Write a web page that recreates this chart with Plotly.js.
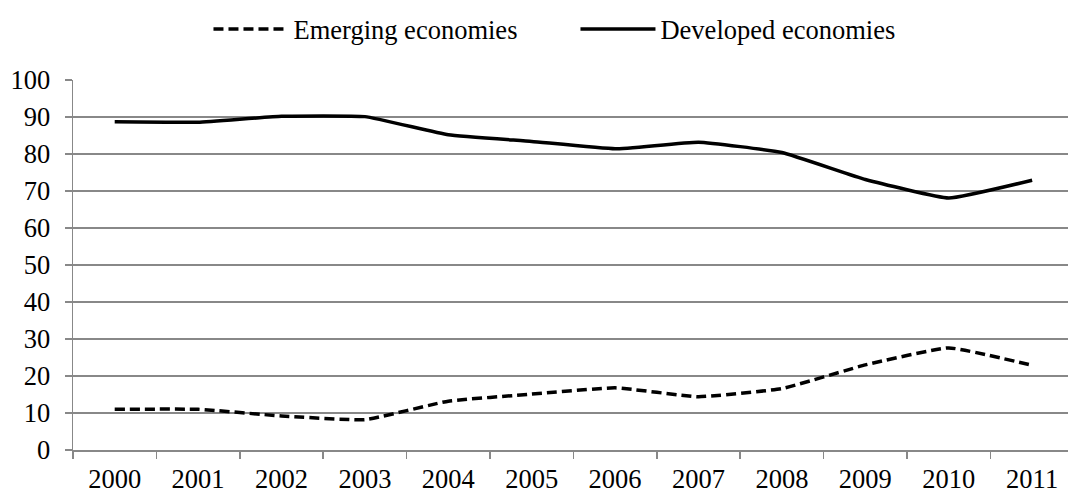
<!DOCTYPE html>
<html>
<head>
<meta charset="utf-8">
<script src="https://cdn.plot.ly/plotly-3.0.1.min.js"></script>
<style>html,body{margin:0;padding:0;background:#fff;}#chart{width:1068px;height:493px;}</style>
</head>
<body>
<div id="chart"></div>
<script>
const years = ["2000","2001","2002","2003","2004","2005","2006","2007","2008","2009","2010","2011"];
const emerging = [11.0, 11.0, 9.2, 8.2, 13.2, 15.1, 16.8, 14.4, 16.6, 23.0, 27.6, 22.9];
const developed = [88.7, 88.6, 90.2, 90.1, 85.2, 83.4, 81.4, 83.2, 80.4, 73.1, 68.1, 72.9];
const yTicks = [0,10,20,30,40,50,60,70,80,90,100];

const font = {family: "Liberation Serif, Times New Roman, serif", size: 26.5, color: "#000"};

const traces = [
  {x: years, y: emerging, name: "Emerging economies", type: "scatter", mode: "lines",
   line: {color: "#000", width: 3.5, dash: "10px,5px", shape: "spline", smoothing: 0.35}},
  {x: years, y: developed, name: "Developed economies", type: "scatter", mode: "lines",
   line: {color: "#000", width: 3.5, shape: "spline", smoothing: 0.35}}
];

const layout = {
  width: 1068, height: 493,
  margin: {l: 73, r: 0, t: 80, b: 43},
  paper_bgcolor: "#fff", plot_bgcolor: "#fff",
  font: font,
  showlegend: true,
  legend: {orientation: "h", x: 0.505, xanchor: "center", y: 1.137, yanchor: "middle",
           font: font, itemwidth: 75, tracegroupgap: 0, entrywidth: 277, entrywidthmode: "pixels"},
  xaxis: {type: "category", range: [-0.5, 11.43], showgrid: false,
          showline: true, linecolor: "#888", linewidth: 1.5,
          ticks: "outside", ticklen: 7, tickcolor: "#888", tickwidth: 1.5,
          tickson: "boundaries", tickfont: font, fixedrange: true, ticklabelstandoff: 5},
  yaxis: {range: [0, 100], tickvals: yTicks, ticktext: yTicks.map(String),
          showgrid: true, gridcolor: "#888", gridwidth: 1.5, zeroline: false,
          showline: true, linecolor: "#888", linewidth: 1.5,
          ticks: "outside", ticklen: 7, tickcolor: "#888", tickwidth: 1.5,
          tickfont: font, fixedrange: true, ticklabelstandoff: 9}
};

Plotly.newPlot("chart", traces, layout, {displayModeBar: false, staticPlot: true});
</script>
</body>
</html>
